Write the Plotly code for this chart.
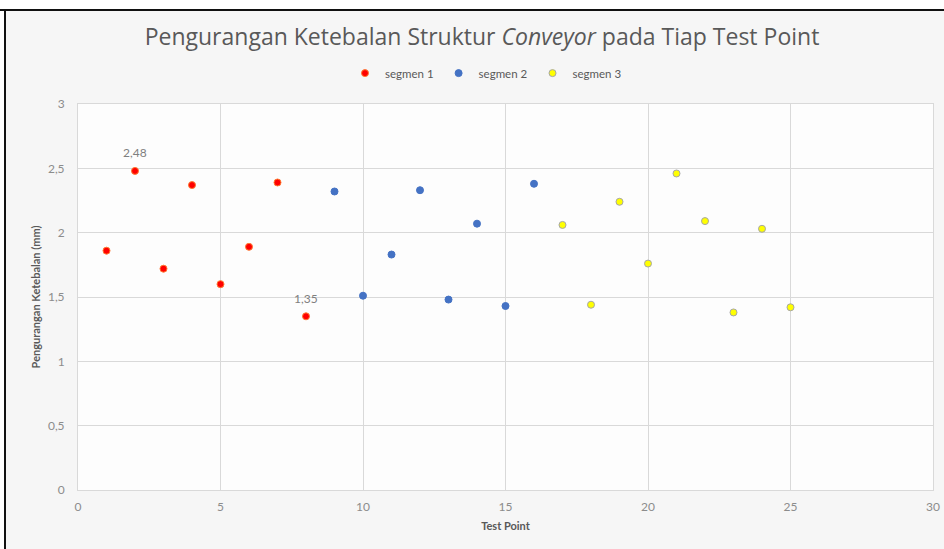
import plotly.graph_objects as go

x_seg1 = [1, 2, 3, 4, 5, 6, 7, 8]
y_seg1 = [1.86, 2.48, 1.72, 2.37, 1.60, 1.89, 2.39, 1.35]
x_seg2 = [9, 10, 11, 12, 13, 14, 15, 16]
y_seg2 = [2.32, 1.51, 1.83, 2.33, 1.48, 2.07, 1.43, 2.38]
x_seg3 = [17, 18, 19, 20, 21, 22, 23, 24, 25]
y_seg3 = [2.06, 1.44, 2.24, 1.76, 2.46, 2.09, 1.38, 2.03, 1.42]
labelled_seg1 = [2, 8]  # test points with a data label

title_text = "Pengurangan Ketebalan Struktur <i>Conveyor</i> pada Tiap Test Point"
x_title = "Test Point"
y_title = "Pengurangan Ketebalan (mm)"

FONT = "Lato, 'Open Sans', sans-serif"
TFONT = "'Open Sans', Lato, sans-serif"

fig = go.Figure()
fig.add_trace(go.Scatter(
    x=x_seg1, y=y_seg1, mode="markers", name="segmen 1",
    marker=dict(size=7, color="#ff0000", line=dict(color="#ff7a33", width=1)),
))
fig.add_trace(go.Scatter(
    x=x_seg2, y=y_seg2, mode="markers", name="segmen 2",
    marker=dict(size=7, color="#4472c4", line=dict(color="#4472c4", width=1)),
))
fig.add_trace(go.Scatter(
    x=x_seg3, y=y_seg3, mode="markers", name="segmen 3",
    marker=dict(size=7, color="#ffff00", line=dict(color="#a6a6a6", width=1)),
))

# data labels for selected points
for xv, yv in zip(x_seg1, y_seg1):
    if xv in labelled_seg1:
        fig.add_annotation(x=xv, y=yv, text=f"{yv:.2f}".replace(".", ","), showarrow=False,
                           yshift=18, font=dict(family=FONT, size=12, color="#7f7f7f"))

fig.update_layout(
    width=944, height=549,
    margin=dict(l=78, r=11, t=104, b=59),
    paper_bgcolor="#f6f6f6",
    plot_bgcolor="#fdfdfd",
    separators=",.",
    font=dict(family=FONT, color="#595959"),
    title=dict(text=title_text, xref="container", x=482/944, xanchor="center", y=0.933, yanchor="middle",
               font=dict(family=TFONT, size=23, color="#595959")),
    legend=dict(orientation="h", x=(486-78)/855, xanchor="center", y=1.08, yanchor="middle",
                font=dict(family=FONT, size=11.5, color="#595959"),
                itemwidth=30, bgcolor="rgba(0,0,0,0)", tracegroupgap=0),
    showlegend=True,
    xaxis=dict(range=[0, 30], dtick=5, showgrid=True, gridcolor="#d9d9d9", gridwidth=1,
               zeroline=False, showline=True, linecolor="#d9d9d9", mirror=True, automargin=False,
               ticks="", ticklabelstandoff=6, tickfont=dict(family=FONT, size=12, color="#8c8c8c"),
               title=dict(text="<b>" + x_title + "</b>", font=dict(family=FONT, size=11, color="#595959"), standoff=8)),
    yaxis=dict(range=[0, 3], dtick=0.5, showgrid=True, gridcolor="#d9d9d9", gridwidth=1,
               zeroline=False, showline=True, linecolor="#d9d9d9", mirror=True, automargin=False,
               ticks="", ticklabelstandoff=10, tickfont=dict(family=FONT, size=12, color="#8c8c8c"),
               title=dict(text="<b>" + y_title + "</b>", font=dict(family=FONT, size=11, color="#595959"), standoff=5)),
)

# outer frame lines (top and left) as in the screenshot
fig.add_shape(type="line", xref="paper", yref="paper", x0=-78/855, x1=1 + 11/855, y0=1 + 94/386, y1=1 + 94/386,
              line=dict(color="#111111", width=2))
fig.add_shape(type="line", xref="paper", yref="paper", x0=-73/855, x1=-73/855, y0=-59/386, y1=1 + 94/386,
              line=dict(color="#111111", width=2))
# white strip above/left of the frame
fig.add_shape(type="rect", xref="paper", yref="paper", x0=-78/855, x1=1 + 11/855, y0=1 + 95/386, y1=1 + 104/386,
              line=dict(width=0), fillcolor="#ffffff", layer="below")
fig.add_shape(type="rect", xref="paper", yref="paper", x0=-78/855, x1=-74/855, y0=-59/386, y1=1 + 104/386,
              line=dict(width=0), fillcolor="#ffffff", layer="below")

fig.write_html("out.html", config={"displayModeBar": False},
               post_script="document.body.style.margin='0';")
